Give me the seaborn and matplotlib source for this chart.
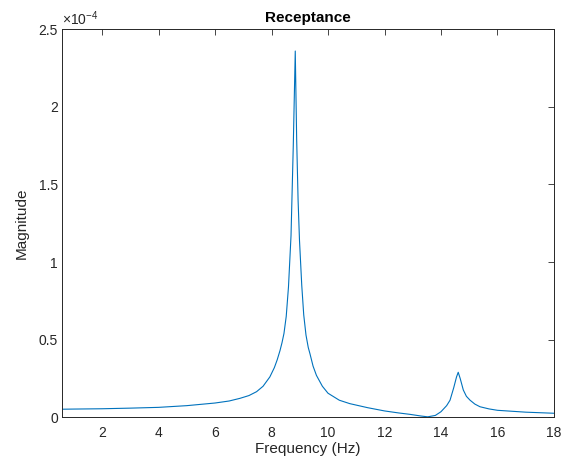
import numpy as np
import pandas as pd
import seaborn as sns
import matplotlib.pyplot as plt

# values (magnitude in units of 1e-4)
freq = [0.58, 1.0, 2.0, 3.0, 4.0, 5.0, 6.0, 6.5, 6.88, 7.2, 7.47, 7.7, 7.94, 8.1,
        8.2, 8.3, 8.37, 8.44, 8.52, 8.60, 8.69, 8.77, 8.84, 8.89, 8.94, 8.99,
        9.07, 9.14, 9.22, 9.30, 9.36, 9.47, 9.59, 9.8, 10.0, 10.4, 10.77, 11.4,
        12.0, 12.5, 12.9, 13.3, 13.53, 13.8, 14.0, 14.2, 14.32, 14.45, 14.55,
        14.61, 14.68, 14.79, 14.9, 15.03, 15.2, 15.38, 15.7, 16.0, 17.0, 18.0]
magnitude = [0.052, 0.053, 0.055, 0.059, 0.064, 0.075, 0.092, 0.105, 0.122, 0.140,
             0.165, 0.200, 0.260, 0.320, 0.370, 0.430, 0.480, 0.540, 0.650, 0.840,
             1.170, 1.750, 2.360, 1.790, 1.400, 1.140, 0.850, 0.660, 0.530, 0.450,
             0.410, 0.330, 0.270, 0.200, 0.155, 0.110, 0.088, 0.062, 0.041, 0.028,
             0.019, 0.008, 0.003, 0.012, 0.036, 0.075, 0.110, 0.190, 0.260, 0.290,
             0.250, 0.176, 0.135, 0.110, 0.085, 0.068, 0.054, 0.045, 0.033, 0.026]
xticks = [2, 4, 6, 8, 10, 12, 14, 16, 18]
yticks = [0, 0.5, 1, 1.5, 2, 2.5]
ytick_labels = ["0", "0.5", "1", "1.5", "2", "2.5"]

df = pd.DataFrame({"freq": freq, "mag": magnitude})

sns.set_style("white")
plt.rcParams['font.family'] = ['Liberation Sans', 'DejaVu Sans']
plt.rcParams['mathtext.fontset'] = 'custom'
plt.rcParams['mathtext.rm'] = 'Liberation Sans'

fig = plt.figure(figsize=(5.67, 4.65), dpi=100)
ax = fig.add_axes([0.1093, 0.1026, 0.8677, 0.8344])
sns.lineplot(data=df, x="freq", y="mag", sort=False, estimator=None,
             color="#0072BD", linewidth=0.8, ax=ax)

ax.set_xlim(0.58, 18)
ax.set_ylim(0, 2.5)
ax.set_xticks(xticks)
ax.set_yticks(yticks)
ax.set_yticklabels(ytick_labels)
ax.tick_params(direction="in", length=4, width=0.6, colors="#262626",
               labelsize=10, top=True, right=True)
ax.tick_params(axis="x", pad=6)
ax.tick_params(axis="y", pad=3)
for s in ax.spines.values():
    s.set_color("#262626")
    s.set_linewidth(0.7)
ax.set_xlabel("Frequency (Hz)", fontsize=11, color="#262626", labelpad=2)
ax.set_ylabel("Magnitude", fontsize=11, color="#262626", labelpad=7)
ax.set_title("Receptance", fontsize=11, fontweight="bold", color="black", pad=5)
ax.text(0.0, 1.003, r"$\times10^{-4}$", transform=ax.transAxes, fontsize=10,
        color="#262626", ha="left", va="bottom")

plt.savefig("out.png", dpi=100)
